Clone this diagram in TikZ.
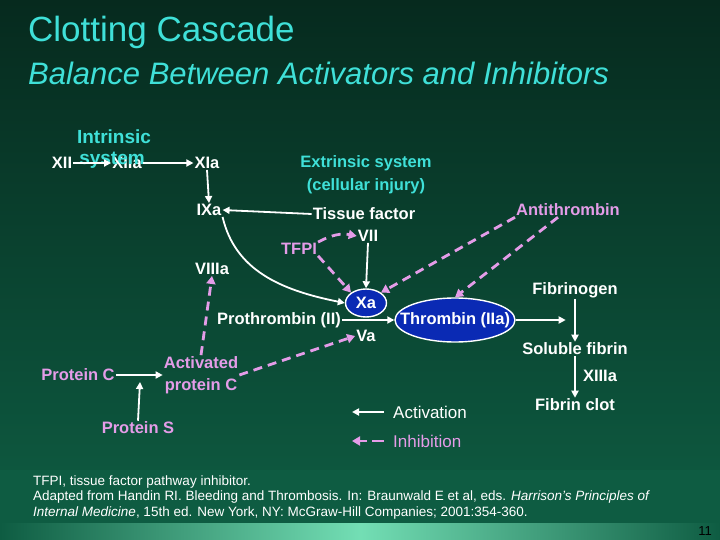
\documentclass[tikz,border=0pt]{standalone}
\usepackage{fontspec}
\setmainfont{Liberation Sans}
\usetikzlibrary{arrows.meta,shapes.geometric}
\definecolor{cy}{HTML}{3FE0D8}
\definecolor{pk}{HTML}{E49CE8}
\definecolor{bl}{HTML}{0A2AB4}
\definecolor{bgtop}{HTML}{062A1E}
\definecolor{bgbot}{HTML}{0E5C42}
\begin{document}
\begin{tikzpicture}[x=1pt,y=-1pt,
  lab/.style={font=\bfseries\fontsize{16.5}{18}\selectfont,text=white,inner sep=1pt},
  plab/.style={lab,text=pk},
  clab/.style={lab,text=cy},
  act/.style={draw=white,line width=1.8pt,-{Triangle[length=7pt,width=7pt]}},
  inh/.style={draw=pk,line width=2.8pt,dash pattern=on 9pt off 6pt,-{Triangle[length=8pt,width=9pt]}},
  ell/.style={ellipse,fill=bl,draw=white,line width=1.4pt,inner sep=1pt}]
\shade[top color=bgtop,bottom color=bgbot] (0,0) rectangle (720,523);
\fill[bgbot] (0,470) rectangle (720,523);
\shade[left color=bgbot,right color=green!40!cyan!45!white!80!bgbot] (0,523) rectangle (360,540);
\shade[right color=bgbot,left color=green!40!cyan!45!white!80!bgbot] (360,523) rectangle (720,540);
\useasboundingbox (0,0) rectangle (720,540);
\node[anchor=west,text=cy,font=\fontsize{35}{38}\selectfont,inner sep=0pt] (t1) at (28,32) {Clotting Cascade};
\node[anchor=west,text=cy,font=\itshape\fontsize{31}{34}\selectfont,inner sep=0pt] (t2) at (28,73) {Balance Between Activators and Inhibitors};

\node[clab,font=\bfseries\fontsize{19}{21}\selectfont] (intr) at (114,137) {Intrinsic};
\node[lab] (xii) at (62,163) {XII};
\node[lab] (xiia) at (127,163) {XIIa};
\node[clab,font=\bfseries\fontsize{19}{21}\selectfont] (sys) at (112,160) {system};
\node[lab] (xia) at (207,163) {XIa};
\node[lab] (ixa) at (209,210) {IXa};
\node[clab] (ext) at (366,163) {Extrinsic system};
\node[clab] (cell) at (366,186) {(cellular injury)};
\node[lab] (tf) at (364,214) {Tissue factor};
\node[lab] (vii) at (368,236) {VII};
\node[plab] (tfpi) at (299,249) {TFPI};
\node[lab] (viiia) at (212,269) {VIIIa};
\node[ell,minimum width=41pt,minimum height=28pt] (xa) at (366,303) {};
\node[lab] at (xa) {Xa};
\node[lab] (pro) at (279,320) {Prothrombin (II)};
\node[lab] (va) at (366,336) {Va};
\node[ell,minimum width=120pt,minimum height=44pt] (th) at (455,320) {};
\node[lab] at (th) {Thrombin (IIa)};
\node[plab] (at) at (568,210) {Antithrombin};
\node[lab] (fg) at (575,290) {Fibrinogen};
\node[lab] (sf) at (575,349) {Soluble fibrin};
\node[lab] (x13) at (600,376) {XIIIa};
\node[lab] (fc) at (575,405) {Fibrin clot};
\node[plab] (pc) at (78,375) {Protein C};
\node[plab,align=center,font=\bfseries\fontsize{16.5}{22}\selectfont] (apc) at (201,375) {Activated\\protein C};
\node[plab] (ps) at (138,428) {Protein S};
\node[text=white,font=\fontsize{17}{18}\selectfont,anchor=west,inner sep=0pt] (la) at (393,412) {Activation};
\node[text=pk,font=\fontsize{17}{18}\selectfont,anchor=west,inner sep=0pt] (li) at (393,441) {Inhibition};
\coordinate (la1) at (384,412); \coordinate (la2) at (352,412);
\coordinate (li1) at (384,441); \coordinate (li2) at (352,441);
\draw[act] (la1) -- (la2);
\draw[inh,dash pattern=on 12pt off 5pt] (li1) -- (li2);

\draw[act] (xii.east) -- (xiia.west);
\draw[act] (xiia.east) -- (xia.west);
\draw[act] (xia.south) -- (ixa.north);
\draw[act] (tf.west) -- (ixa.east);
\draw[act] (ixa.south east) .. controls (235,270) and (280,290) .. (xa.west);
\draw[act] (vii.south) -- (xa.north);
\draw[act] (pro.east) -- (th.west);
\draw[act] (th.east) -- ++(50,0);
\draw[act] (fg.south) -- (sf.north);
\draw[act] (sf.south) -- (fc.north);
\draw[act] (pc.east) -- (apc.west);
\draw[act] (ps.north) -- (140,382);
\draw[inh] (tfpi.north east) to[bend left=20] (vii.west);
\draw[inh] (tfpi.south east) -- (xa.north west);
\draw[inh] (at.south west) -- (xa.north east);
\draw[inh] ([xshift=-10pt]at.south) -- (th.north);
\draw[inh] (apc.north) -- (viiia.south);
\draw[inh] (apc.east) -- (va.west);

\begin{scope}[font=\fontsize{13.5}{15.5}\selectfont,text=white]
\node[anchor=west,inner sep=0pt] (f1) at (33,482) {TFPI, tissue factor pathway inhibitor.};
\node[anchor=west,inner sep=0pt] (f2) at (33,497) {Adapted from Handin RI. Bleeding and Thrombosis. In: Braunwald E et al, eds. \textit{Harrison's Principles of}};
\node[anchor=west,inner sep=0pt] (f3) at (33,513) {\textit{Internal Medicine}, 15th ed. New York, NY: McGraw-Hill Companies; 2001:354-360.};
\end{scope}
\node[font=\fontsize{13}{14}\selectfont] (pg) at (705,531) {11};
\end{tikzpicture}
\end{document}
